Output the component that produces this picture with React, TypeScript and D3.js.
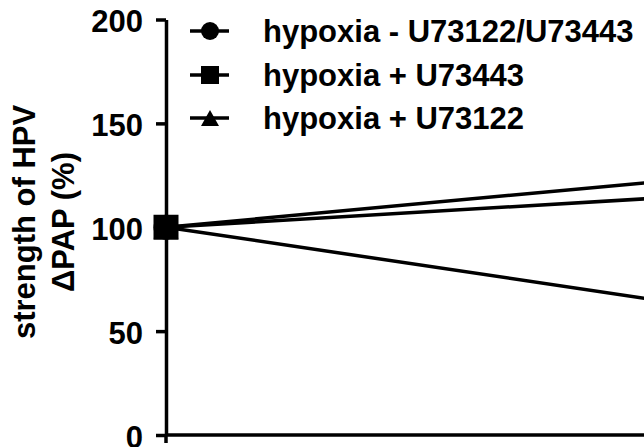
import { useEffect, useRef } from 'react';
import * as d3 from 'd3';

const TIMEPOINTS = [0, 1];
const SERIES = ['hypoxia - U73122/U73443', 'hypoxia + U73443', 'hypoxia + U73122'];
const SHAPES = ['circle', 'square', 'triangle'];
const VALUES_CONTROL = [100, 116];
const VALUES_U73443 = [100, 125];
const VALUES_U73122 = [100, 60];
const Y_TICKS = [0, 50, 100, 150, 200];
const Y_TITLE = ['strength of HPV', 'ΔPAP (%)'];

const W = 644, H = 447;
const FONT = '"Liberation Sans", Arial, sans-serif';
const FS = 31;

function symbolPath(shape: string, cx: number, cy: number, s: number) {
  const h = s / 2;
  if (shape === 'circle') {
    return `M${cx - h},${cy}a${h},${h} 0 1,0 ${s},0a${h},${h} 0 1,0 ${-s},0Z`;
  }
  if (shape === 'square') {
    return `M${cx - h},${cy - h}h${s}v${s}h${-s}Z`;
  }
  const th = s * 0.9;
  return `M${cx},${cy - th / 2}L${cx + h},${cy + th / 2}L${cx - h},${cy + th / 2}Z`;
}

export default function App() {
  const svgRef = useRef<SVGSVGElement>(null);

  useEffect(() => {
    if (!svgRef.current) return;
    const svg = d3.select(svgRef.current);
    svg.selectAll('*').remove();

    const x = d3.scaleLinear().domain([0, 1]).range([166, 726]);
    const y = d3.scaleLinear().domain([0, 200]).range([435, 19.5]);

    const data = [VALUES_CONTROL, VALUES_U73443, VALUES_U73122];

    // y axis
    const yAxis = d3.axisLeft(y).tickValues(Y_TICKS).tickSize(10).tickSizeOuter(0).tickPadding(13);
    const gy = svg.append('g').attr('transform', `translate(${x(0)},0)`).call(yAxis);
    gy.select('.domain').attr('stroke', '#000').attr('stroke-width', 3.5);
    gy.selectAll('.tick line').attr('stroke', '#000').attr('stroke-width', 3.5);
    gy.selectAll('.tick text')
      .attr('font-family', FONT).attr('font-size', FS).attr('font-weight', 'bold')
      .attr('fill', '#000')
      .attr('dy', '0.4em');

    // x axis (unlabelled)
    svg.append('line')
      .attr('x1', x(0)).attr('x2', W + 20)
      .attr('y1', y(0)).attr('y2', y(0))
      .attr('stroke', '#000').attr('stroke-width', 3.5);
    svg.append('line')
      .attr('x1', x(0)).attr('x2', x(0))
      .attr('y1', y(0)).attr('y2', y(0) + 8)
      .attr('stroke', '#000').attr('stroke-width', 3.5);

    // y title
    Y_TITLE.forEach((t, i) => {
      svg.append('text')
        .attr('transform', 'rotate(-90)')
        .attr('x', -222).attr('y', i === 0 ? 35 : 74)
        .attr('text-anchor', 'middle')
        .attr('font-family', FONT).attr('font-size', FS).attr('font-weight', 'bold')
        .text(t);
    });

    // lines
    const line = d3.line<number>().x((_, i) => x(TIMEPOINTS[i])).y((d) => y(d));
    [2, 0, 1].forEach((k) => {
      svg.append('path')
        .attr('d', line(data[k])!)
        .attr('fill', 'none').attr('stroke', '#000').attr('stroke-width', 3.5);
    });
    [2, 0, 1].forEach((k) => {
      data[k].forEach((v, i) => {
        svg.append('path')
          .attr('d', symbolPath(SHAPES[k], x(TIMEPOINTS[i]), y(v), 25))
          .attr('fill', '#000');
      });
    });

    // legend
    const LEG_Y = [31, 75, 118];
    SERIES.forEach((name, k) => {
      const ly = LEG_Y[k];
      svg.append('line')
        .attr('x1', 190).attr('x2', 229).attr('y1', ly).attr('y2', ly)
        .attr('stroke', '#000').attr('stroke-width', 3.5);
      svg.append('path')
        .attr('d', symbolPath(SHAPES[k], 210, ly, 18))
        .attr('fill', '#000');
      svg.append('text')
        .attr('x', 263).attr('y', ly + 11)
        .attr('font-family', FONT).attr('font-size', FS).attr('font-weight', 'bold')
        .text(name);
    });
  }, []);

  return (
    <div>
      <style>{`body{margin:0}`}</style>
      <svg ref={svgRef} width={W} height={H} style={{ display: 'block', background: '#fff' }} />
    </div>
  );
}
